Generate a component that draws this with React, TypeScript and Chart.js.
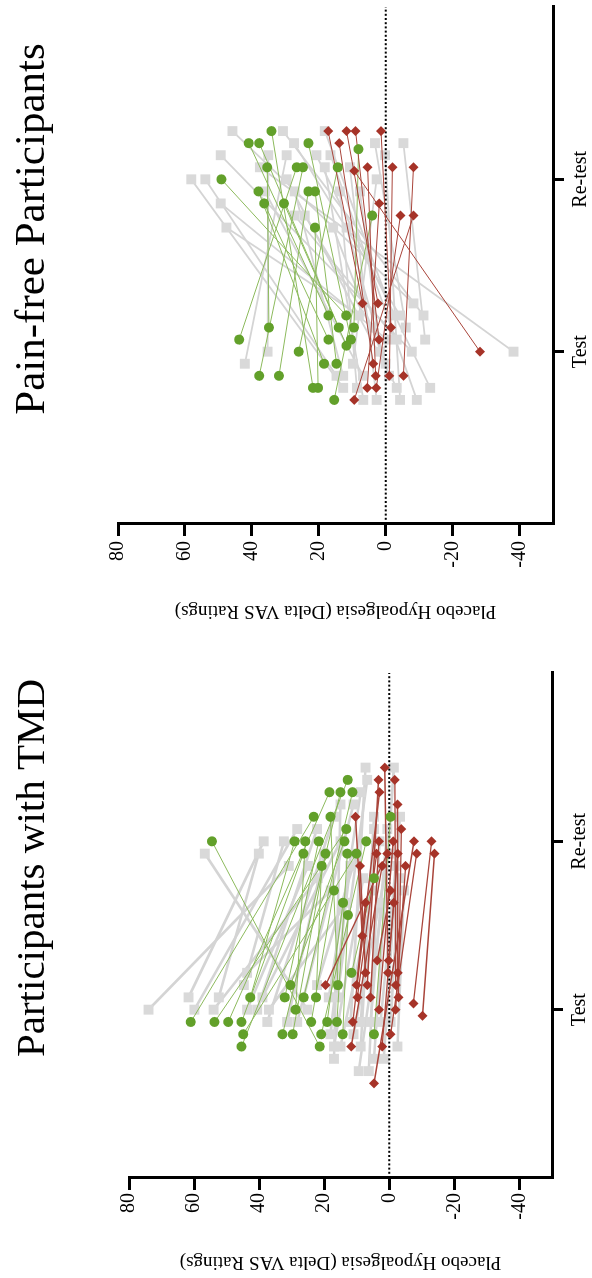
import React, { useEffect, useRef } from 'react';
import { Chart, registerables } from 'chart.js';

Chart.register(...registerables);

// ---------- shared labels ----------
const CATEGORIES = ['Test', 'Re-test'];
const VALUE_TICKS = [-40, -20, 0, 20, 40, 60, 80];
const AXIS_TITLE = 'Placebo Hypoalgesia (Delta VAS Ratings)';
const TITLE_TMD = 'Participants with TMD';
const TITLE_PF = 'Pain-free Participants';

// ---------- Participants with TMD ----------
// green circles
const tmdGreenTest = [61, 53.7, 49.5, 45.4, 45.4, 44.9, 42.7, 32.8, 32.1, 30.4, 29.7, 28.8, 26.3, 24, 22.5, 20.9, 19.1, 16.1, 15.8, 14.3, 11.6, 4.7, 21.4];
const tmdGreenTestSlot = [-1, -1, -1, -1, -3, -2, 1, -2, 1, 2, -2, 0, 1, -1, 1, -2, -1, -1, 2, -2, 3, -2, -3];
const tmdGreenRetest = [23.2, 13.2, 18.4, 26.4, 12.8, 10.1, 29.1, 15, 21.7, 13.8, 19.6, 25.8, 11.3, 17, 20.8, 7.1, 14.2, 12.9, 18.1, 12.7, 4.7, -0.4, 54.5];
const tmdGreenRetestSlot = [2, 1, 4, -1, 5, -1, 0, 4, 0, 0, -1, 0, 4, -4, -2, 0, -5, -1, 2, -6, -3, 2, 0];
// red diamonds
const tmdRedTest = [8.3, 7.3, 0.4, -2.6, 19.6, 10.1, 6.8, -2, 9.8, 5.8, -2.8, -7.4, 3.2, -1.9, -10.2, 11.2, -0.4, 11.7, 2.2, 4.7, 3.7, 0.2];
const tmdRedTestSlot = [6, 3, 3, 3, 2, 2, 2, 2, 1, 1, 1, 0.5, 0, 0, -0.5, -1, -2, -3, -3, -6, 4, 4];
const tmdRedRetest = [10.4, 9, 1.4, -2.5, 0.6, 7.3, 3.3, -1.7, 3.9, 3.2, -3.7, -13, -1.2, -5, -13.9, 3, -8.4, 2.2, -2.6, -7.6, -0.4, -1.4];
const tmdRedRetestSlot = [2, -2, 6, 3, -1, -5, 5, 5, -1, 0, 1, 0, 0, -2, -1, 4, -1, -2, -1, 0, -4, -5];
// grey squares
const tmdGreyTest = [74, 61.7, 59.9, 54, 52.4, 44.7, 43.7, 43.7, 40.6, 39, 37.5, 37, 31.4, 28.3, 25.2, 22.2, 18.6, 16, 18.1, 17, 15, 17, 9.4, 6.3, 4.7, 1.7, 8.8, -2.5, 11.9, 8.8, 5.8, 2.7, 11, -0.4];
const tmdGreyTestSlot = [0, 1, 0, 0, 1, 2, 3, 0, 0, 1, -1, 0, -1, -1, 0, 2, 1, 1, -2, -3, -3, -4, -5, -5, -4, -4, -3, -3, -1, -1, -1, -1, -2, -1];
const tmdGreyRetest = [30.9, 38.6, 28.3, 22, 40.1, 32.4, 18, 25, 22.2, 15, 17, 13, 20, 11, 56.7, 10, 8.8, 6.8, 12, 8, 5, 15, 2, 3, -1.4, -3.3, 4.7, -4.5, 7.3, 4.7, 0.6, -2, 0, -3];
const tmdGreyRetestSlot = [-2, 0, 1, -3, -1, 0, -4, -2, 1, 0, 2, -5, -1, 3, -1, -1, 4, 5, -2, -3, -4, 3, -5, 0, 6, 2, 2, -4, 6, 1, 1, -2, -1, -3];

// ---------- Pain-free Participants ----------
const pfGreenTest = [43.8, 34.9, 17.1, 11.8, 14, 9.5, 10.4, 17.1, 11.7, 26, 18.4, 14.7, 37.8, 31.9, 21.7, 20.2, 15.4];
const pfGreenTestSlot = [1, 2, 3, 3, 2, 2, 1, 1, 0.5, 0, -1, -1, -2, -2, -3, -3, -4];
const pfGreenRetest = [26.6, 35.4, 40.9, 49.1, 37.8, 8.1, 23.1, 36.3, 30.4, 14.3, 38, 21.1, 24.7, 23.1, 34.1, 21.1, 4];
const pfGreenRetestSlot = [1, 1, 3, 0, 3, 2.5, 3, -2, -2, 1, -1, -1, 1, -1, 4, -4, -3];
const pfRedTest = [6.9, 2.3, -1.6, 2, 3.7, 3, -1.1, -5.3, 5.5, 2.8, 9.4, -28.2];
const pfRedTestSlot = [4, 4, 2, 1, -1, -2, -2, -2, -3, -3, -4, 0];
const pfRedRetest = [17.2, 11.7, 1.4, 9, 13.9, 5.4, -2, -8.3, 1.9, -4.4, -8.3, 9.4];
const pfRedRetestSlot = [4, 4, 4, 4, 3, 1, 1, 1, -2, -3, -3, 0.7];
const pfGreyTest = [-8.3, -11.3, -2.2, -4.3, -6, -11.8, -7.8, -38.2, 35.3, 42.1, -13.3, -9.3, -4.3, 2.7, 6.7, 12.7, 14.7, -3.3, 9.8, 6.8, 12.7, 8.6, 1.7, -0.4, -3.3, 4, 8, 0, -1];
const pfGreyTestSlot = [4, 3, 3, 3, 2, 1, 0, 0, 0, -1, -3, -4, -4, -4, -4, -3, -2, -3, -1, -2, -2, -3, 0, 1, 1, 2, 3, -1, -2];
const pfGreyRetest = [45.8, 30.7, 18.2, 27.4, 3.2, -5.3, 49.3, 37.6, 35.1, 29.6, 20.7, 16.5, 0.2, 10.7, 18.2, 58.1, 53.9, 29.6, 2.7, 36.1, 27.2, 13.7, 7.7, 49.3, 27.2, 24.2, 47.6, 15.7, 11.7];
const pfGreyRetestSlot = [4, 4, 4, 3, 3, 3, 2, 1, 2, 2, 2, 2, 2, 1, 1, 0, 0, 0, 0, -1, -1, -1, -1, -2, -3, -3, -4, -4, -4];

// ---------- styles ----------
const SERIF = "'Liberation Serif', 'Times New Roman', serif";
const GREY = '#d9d9d9';
const GREY_LINE = '#d4d4d4';
const GREEN = '#62a02a';
const GREEN_LINE = '#8cba5c';
const RED = '#a63328';
const RED_LINE = '#a9443a';

type Group = {
  test: number[]; testSlot: number[]; retest: number[]; retestSlot: number[];
  color: string; lineColor: string; lineWidth: number; pointStyle: string; radius: number;
  lineOrder: number; pointOrder: number;
};

type PanelSpec = {
  title: string; titleX: number; titleSize: number; width: number; height: number;
  padTop: number; padRight: number; yWidth: number; xHeight: number;
  slotStep: number; yTitlePad: number; yTickPad: number; groups: Group[];
};

const titlePlugin = {
  id: 'panelTitle',
  afterDraw(chart: any, _args: any, opts: any) {
    const ctx = chart.ctx;
    ctx.save();
    ctx.fillStyle = '#000';
    ctx.font = `${opts.size}px ${SERIF}`;
    ctx.textAlign = 'center';
    ctx.textBaseline = 'alphabetic';
    ctx.fillText(opts.text, opts.x, opts.y);
    ctx.restore();
  },
};

function buildConfig(p: PanelSpec): any {
  const datasets: any[] = [];
  const pos = (cat: number, slot: number) => cat + slot * p.slotStep;
  p.groups.forEach((g) => {
    g.test.forEach((tv, i) => {
      datasets.push({
        type: 'line',
        data: [
          { x: pos(1, g.testSlot[i]), y: tv },
          { x: pos(2, g.retestSlot[i]), y: g.retest[i] },
        ],
        borderColor: g.lineColor,
        borderWidth: g.lineWidth,
        pointRadius: 0,
        pointHoverRadius: 0,
        fill: false,
        tension: 0,
        order: g.lineOrder,
      });
    });
    const pts = [
      ...g.test.map((v, i) => ({ x: pos(1, g.testSlot[i]), y: v })),
      ...g.retest.map((v, i) => ({ x: pos(2, g.retestSlot[i]), y: v })),
    ];
    datasets.push({
      type: 'scatter',
      data: pts,
      showLine: false,
      pointStyle: g.pointStyle,
      pointRadius: g.radius,
      pointHoverRadius: g.radius,
      backgroundColor: g.color,
      borderColor: g.color,
      borderWidth: 0,
      order: g.pointOrder,
    });
  });
  datasets.push({
    type: 'line',
    data: [{ x: 0, y: 0 }, { x: 3, y: 0 }],
    borderColor: '#000',
    borderWidth: 2,
    borderDash: [2, 2.2],
    pointRadius: 0,
    fill: false,
    order: 45,
  });

  return {
    type: 'scatter',
    data: { datasets },
    plugins: [titlePlugin],
    options: {
      animation: false,
      responsive: false,
      events: [],
      layout: { padding: { top: p.padTop, right: p.padRight, left: 0, bottom: 0 } },
      plugins: {
        legend: { display: false },
        tooltip: { enabled: false },
        panelTitle: { text: p.title, x: p.titleX, y: 44, size: p.titleSize },
      },
      scales: {
        x: {
          type: 'linear',
          min: 0,
          max: 3,
          afterBuildTicks: (s: any) => { s.ticks = [{ value: 1 }, { value: 2 }]; },
          afterFit: (s: any) => { s.height = p.xHeight; },
          ticks: {
            callback: (v: any) => (v === 1 ? CATEGORIES[0] : CATEGORIES[1]),
            font: { family: SERIF, size: 20 },
            color: '#000',
            padding: 5,
            maxRotation: 0,
            autoSkip: false,
          },
          grid: { display: true, drawOnChartArea: false, drawTicks: true, tickLength: 11, lineWidth: 3, color: '#000' },
          border: { display: true, color: '#000', width: 3 },
        },
        y: {
          type: 'linear',
          min: -50,
          max: 80,
          afterBuildTicks: (s: any) => { s.ticks = VALUE_TICKS.map((v) => ({ value: v })); },
          afterFit: (s: any) => { s.width = p.yWidth; },
          ticks: {
            font: { family: SERIF, size: 20 },
            color: '#000',
            padding: p.yTickPad,
            autoSkip: false,
          },
          title: {
            display: true,
            text: AXIS_TITLE,
            font: { family: SERIF, size: 19, lineHeight: 1 },
            color: '#000',
            padding: { top: p.yTitlePad, bottom: 0 },
          },
          grid: { display: true, drawOnChartArea: false, drawTicks: true, tickLength: 12, lineWidth: 3, color: '#000' },
          border: { display: true, color: '#000', width: 3 },
        },
      },
    },
  };
}

function makeGroups(
  grey: number[][], green: number[][], red: number[][], greyWidth: number, redWidth: number,
): Group[] {
  return [
    { test: grey[0], testSlot: grey[1], retest: grey[2], retestSlot: grey[3], color: GREY, lineColor: GREY_LINE, lineWidth: greyWidth, pointStyle: 'rect', radius: 7, lineOrder: 60, pointOrder: 50 },
    { test: green[0], testSlot: green[1], retest: green[2], retestSlot: green[3], color: GREEN, lineColor: GREEN_LINE, lineWidth: 1, pointStyle: 'circle', radius: 5, lineOrder: 40, pointOrder: 20 },
    { test: red[0], testSlot: red[1], retest: red[2], retestSlot: red[3], color: RED, lineColor: RED_LINE, lineWidth: redWidth, pointStyle: 'rectRot', radius: 5, lineOrder: 35, pointOrder: 10 },
  ];
}

const TMD_SPEC: PanelSpec = {
  title: TITLE_TMD, titleX: 410, titleSize: 41, width: 640, height: 592,
  padTop: 129, padRight: 35, yWidth: 100, xHeight: 40,
  slotStep: 0.073, yTitlePad: 7, yTickPad: 3,
  groups: makeGroups(
    [tmdGreyTest, tmdGreyTestSlot, tmdGreyRetest, tmdGreyRetestSlot],
    [tmdGreenTest, tmdGreenTestSlot, tmdGreenRetest, tmdGreenRetestSlot],
    [tmdRedTest, tmdRedTestSlot, tmdRedRetest, tmdRedRetestSlot],
    2.6, 1.4,
  ),
};

const PF_SPEC: PanelSpec = {
  title: TITLE_PF, titleX: 409, titleSize: 43, width: 638, height: 592,
  padTop: 118, padRight: 5, yWidth: 114, xHeight: 39,
  slotStep: 0.07, yTitlePad: 18, yTickPad: 5,
  groups: makeGroups(
    [pfGreyTest, pfGreyTestSlot, pfGreyRetest, pfGreyRetestSlot],
    [pfGreenTest, pfGreenTestSlot, pfGreenRetest, pfGreenRetestSlot],
    [pfRedTest, pfRedTestSlot, pfRedRetest, pfRedRetestSlot],
    1.8, 1,
  ),
};

function Panel({ spec }: { spec: PanelSpec }) {
  const ref = useRef<HTMLCanvasElement | null>(null);
  useEffect(() => {
    if (!ref.current) return;
    const chart = new Chart(ref.current, buildConfig(spec));
    return () => chart.destroy();
  }, [spec]);
  return (
    <canvas
      ref={ref}
      width={spec.width}
      height={spec.height}
      style={{ display: 'block', width: spec.width, height: spec.height }}
    />
  );
}

export default function App() {
  return (
    <div style={{ position: 'absolute', left: 0, top: 0, width: 592, height: 1278, overflow: 'hidden', background: '#fff' }}>
      <div
        style={{
          position: 'absolute',
          left: 0,
          top: 0,
          width: 1278,
          height: 592,
          display: 'flex',
          transformOrigin: '0 0',
          transform: 'translateY(1278px) rotate(-90deg)',
          background: '#fff',
        }}
      >
        <Panel spec={TMD_SPEC} />
        <Panel spec={PF_SPEC} />
      </div>
    </div>
  );
}
